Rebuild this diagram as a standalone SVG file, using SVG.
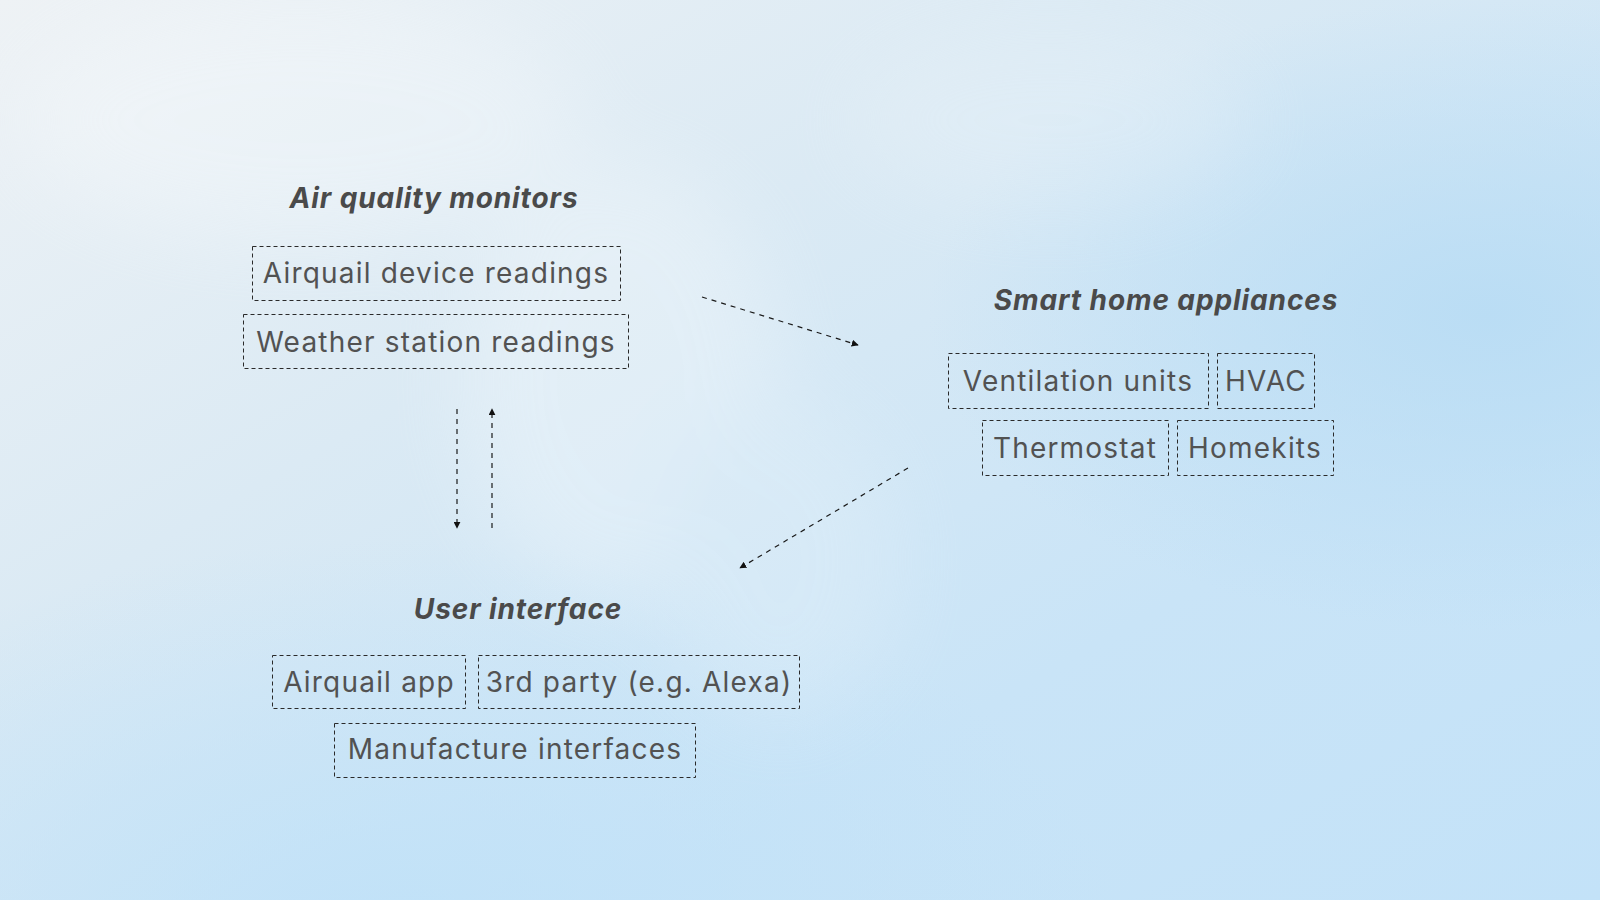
<svg xmlns="http://www.w3.org/2000/svg" width="1600" height="900" viewBox="0 0 1600 900">
  <defs>
    <linearGradient id="sky" x1="0" y1="0" x2="1" y2="1">
      <stop offset="0" stop-color="#eef2f5"/>
      <stop offset="0.35" stop-color="#dbeaf4"/>
      <stop offset="0.7" stop-color="#c9e4f7"/>
      <stop offset="1" stop-color="#c3e2f8"/>
    </linearGradient>
    <radialGradient id="blueSpot" cx="0.93" cy="0.35" r="0.35">
      <stop offset="0" stop-color="#b8dcf4" stop-opacity="0.9"/>
      <stop offset="1" stop-color="#b8dcf4" stop-opacity="0"/>
    </radialGradient>
    <radialGradient id="bottomBlue" cx="0.25" cy="1.05" r="0.45">
      <stop offset="0" stop-color="#bfe1f8" stop-opacity="0.9"/>
      <stop offset="1" stop-color="#bfe1f8" stop-opacity="0"/>
    </radialGradient>
    <filter id="soft" x="-50%" y="-50%" width="200%" height="200%">
      <feGaussianBlur stdDeviation="40"/>
    </filter>
    <marker id="arrow" viewBox="0 0 10 10" refX="9" refY="5" markerWidth="7" markerHeight="7" markerUnits="userSpaceOnUse" orient="auto">
      <path d="M0,0 L10,5 L0,10 z" fill="#111"/>
    </marker>
    <style>
      .box { fill: none; stroke: #2a2a2a; stroke-width: 1; stroke-dasharray: 4 3; }
      .label { font-family: Inter, "Noto Sans", sans-serif; font-size: 28px; letter-spacing: 1.2px; fill: #525252; text-anchor: middle; }
      .title { font-family: Inter, "Noto Sans", sans-serif; font-size: 28px; letter-spacing: 0.9px; font-weight: bold; font-style: italic; fill: #4a4a4a; text-anchor: middle; }
      .link { fill: none; stroke: #1a1a1a; stroke-width: 1.2; stroke-dasharray: 5 5; marker-end: url(#arrow); }
    </style>
  </defs>

  <!-- sky backdrop -->
  <rect width="1600" height="900" fill="url(#sky)"/>
  <rect width="1600" height="900" fill="url(#blueSpot)"/>
  <rect width="1600" height="900" fill="url(#bottomBlue)"/>
  <g filter="url(#soft)" opacity="0.25">
    <ellipse cx="620" cy="380" rx="160" ry="220" fill="#ffffff"/>
    <ellipse cx="780" cy="560" rx="120" ry="160" fill="#eaf4fb"/>
    <ellipse cx="300" cy="120" rx="280" ry="120" fill="#ffffff"/>
    <ellipse cx="1050" cy="120" rx="200" ry="90" fill="#eef5fa"/>
  </g>

  <!-- connectors -->
  <g id="connectors">
    <line class="link" x1="702" y1="297" x2="858" y2="345"/>
    <line class="link" x1="908" y1="468" x2="740" y2="568"/>
    <line class="link" x1="457" y1="409" x2="457" y2="528"/>
    <line class="link" x1="492" y1="528" x2="492" y2="409"/>
  </g>

  <!-- Air quality monitors -->
  <g id="air-quality-monitors">
    <text class="title" x="434" y="208">Air quality monitors</text>
    <g id="airquail-device-readings">
      <rect class="box" x="252.5" y="246.5" width="368" height="54"/>
      <text class="label" x="436" y="283">Airquail device readings</text>
    </g>
    <g id="weather-station-readings">
      <rect class="box" x="243.5" y="314.5" width="385" height="54"/>
      <text class="label" x="436" y="352">Weather station readings</text>
    </g>
  </g>

  <!-- Smart home appliances -->
  <g id="smart-home-appliances">
    <text class="title" x="1166" y="310">Smart home appliances</text>
    <g id="ventilation-units">
      <rect class="box" x="948.5" y="353.5" width="260" height="55"/>
      <text class="label" x="1078" y="391">Ventilation units</text>
    </g>
    <g id="hvac">
      <rect class="box" x="1217.5" y="353.5" width="97" height="55"/>
      <text class="label" x="1266" y="391">HVAC</text>
    </g>
    <g id="thermostat">
      <rect class="box" x="982.5" y="420.5" width="186" height="55"/>
      <text class="label" x="1075" y="458">Thermostat</text>
    </g>
    <g id="homekits">
      <rect class="box" x="1177.5" y="420.5" width="156" height="55"/>
      <text class="label" x="1255" y="458">Homekits</text>
    </g>
  </g>

  <!-- User interface -->
  <g id="user-interface">
    <text class="title" x="518" y="619">User interface</text>
    <g id="airquail-app">
      <rect class="box" x="272.5" y="655.5" width="193" height="53"/>
      <text class="label" x="369" y="692">Airquail app</text>
    </g>
    <g id="third-party">
      <rect class="box" x="478.5" y="655.5" width="321" height="53"/>
      <text class="label" x="639" y="692">3rd party (e.g. Alexa)</text>
    </g>
    <g id="manufacture-interfaces">
      <rect class="box" x="334.5" y="723.5" width="361" height="54"/>
      <text class="label" x="515" y="759">Manufacture interfaces</text>
    </g>
  </g>
</svg>
